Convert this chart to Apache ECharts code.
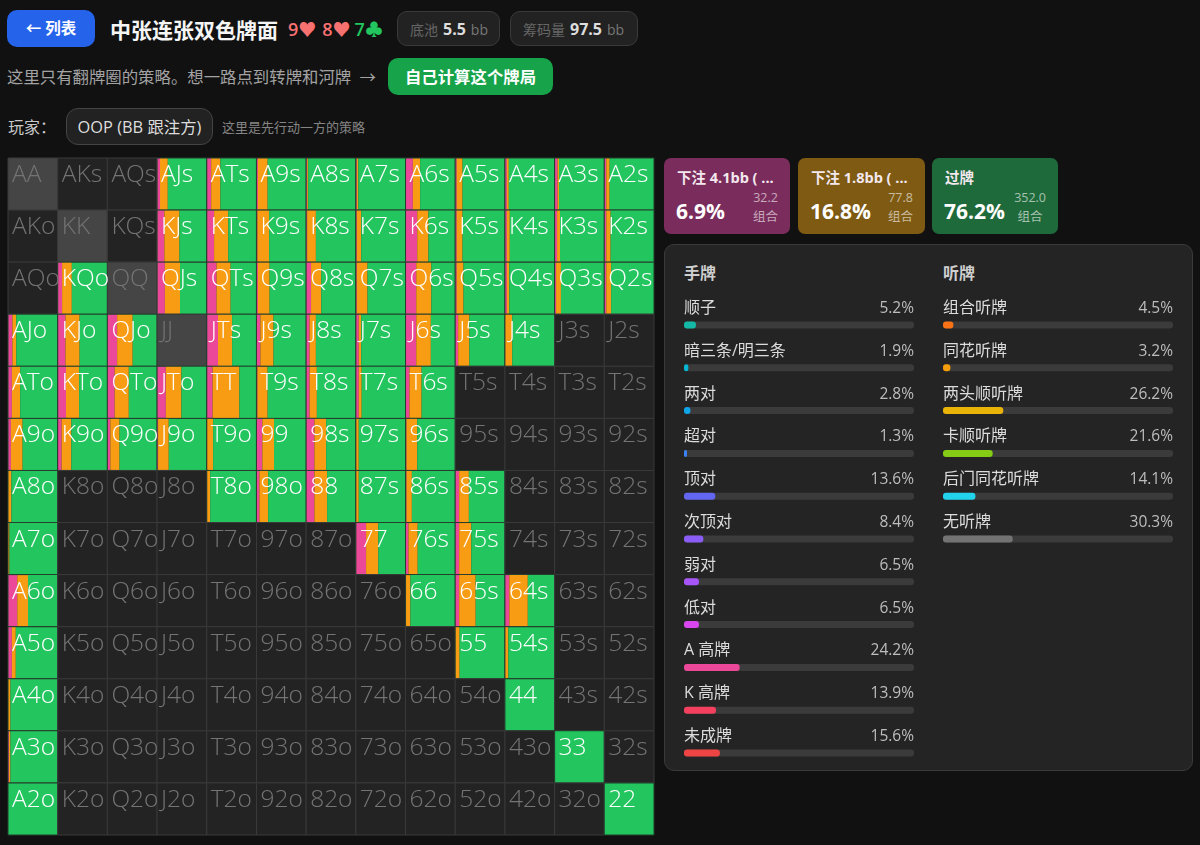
<!DOCTYPE html>
<html lang="zh">
<head>
<meta charset="utf-8">
<title>中张连张双色牌面</title>
<script src="https://cdn.jsdelivr.net/npm/echarts@6/dist/echarts.min.js"></script>
<style>
  html, body { margin: 0; padding: 0; background: #111111; }
  body { width: 1200px; height: 845px; overflow: hidden; position: relative;
         font-family: "Open Sans", "Noto Sans CJK SC", sans-serif; }
  #chart { position: absolute; left: 0; top: 0; width: 1200px; height: 845px; }
  .box { position: absolute; box-sizing: border-box; white-space: nowrap; }
  .btn { border-radius: 10px; color: #fff; font-weight: 700; text-align: center; }
  .pill { background: #222222; border: 1px solid #3a3a3a; border-radius: 10px; font-size: 14px; color: #666; }
  .pill b { color: #dddddd; font-size: 16px; margin: 0 5px; }
  .card { border-radius: 7px; color: #fff; }
  .card .t { position: absolute; left: 13px; top: 8px; font-size: 14.5px; font-weight: 700; color: #f3e8ee; }
  .card .p { position: absolute; left: 12px; top: 39px; font-size: 21px; font-weight: 700; }
  .card .c { position: absolute; right: 12px; top: 30px; font-size: 12.5px; line-height: 19px; text-align: center; color: rgba(255,255,255,.6); }
  .panel { background: #242424; border: 1px solid #3a3a3a; border-radius: 10px; }
  .head { font-size: 16px; line-height: 20px; font-weight: 700; color: #cfcfcf; }
</style>
</head>
<body>
<div class="box btn" style="left:7px;top:10px;width:88px;height:37px;line-height:37px;background:#2563eb;font-size:15.5px">← 列表</div>
<div class="box" style="left:110px;top:15px;font-size:21px;line-height:30px;font-weight:700;color:#f5f5f5">中张连张双色牌面</div>
<div class="box" style="left:288px;top:16px;font-size:18px;line-height:27px;font-weight:600;color:#f87171">9♥<span style="margin-left:6px">8♥</span><span style="margin-left:4px;color:#22c55e">7♣</span></div>
<div class="box pill" style="left:397px;top:11px;width:103px;height:35px;line-height:35px;padding-left:12px">底池<b>5.5</b><span style="color:#777">bb</span></div>
<div class="box pill" style="left:510px;top:11px;width:128px;height:35px;line-height:35px;padding-left:12px">筹码量<b>97.5</b><span style="color:#777">bb</span></div>
<div class="box" style="left:7px;top:65px;font-size:16.4px;line-height:24px;color:#a3a3a3">这里只有翻牌圈的策略。想一路点到转牌和河牌 <span style="margin-left:4px">→</span></div>
<div class="box btn" style="left:388px;top:58px;width:165px;height:37px;line-height:37px;background:#16a34a;font-size:16.4px">自己计算这个牌局</div>
<div class="box" style="left:8px;top:116px;font-size:16px;line-height:22px;color:#c8c8c8">玩家：</div>
<div class="box pill" style="left:66px;top:108px;width:147px;height:37px;line-height:35px;text-align:center;font-size:16.4px;color:#dddddd;border-color:#444;border-radius:12px">OOP (BB 跟注方)</div>
<div class="box" style="left:222px;top:117px;font-size:13px;line-height:20px;color:#858585">这里是先行动一方的策略</div>

<div class="box card" style="left:664px;top:158px;width:126px;height:76px;background:#7a2d5c"><span class="t">下注 4.1bb ( ...</span><span class="p">6.9%</span><span class="c">32.2<br>组合</span></div>
<div class="box card" style="left:798px;top:158px;width:127px;height:76px;background:#7e5a13"><span class="t">下注 1.8bb ( ...</span><span class="p">16.8%</span><span class="c">77.8<br>组合</span></div>
<div class="box card" style="left:932px;top:158px;width:126px;height:76px;background:#1f6a3b"><span class="t">过牌</span><span class="p">76.2%</span><span class="c">352.0<br>组合</span></div>

<div class="box panel" style="left:664px;top:244px;width:529px;height:527px"></div>
<div class="box head" style="left:684px;top:263px">手牌</div>
<div class="box head" style="left:943px;top:263px">听牌</div>

<div id="chart"></div>
<script>
// 13x13 起手牌矩阵，行列同序
const ranks = ['A', 'K', 'Q', 'J', 'T', '9', '8', '7', '6', '5', '4', '3', '2'];

// 每格的下注比例（%），null = 不在范围内，其余部分是过牌
const bigBet = [
  [null, null, null, 5, 8, 2, 1, 1, 14, 2, 3, 5, 3],
  [null, null, null, 14, 14, 1, 1, 1, 23, 2, 3, 4, 3],
  [null, 8, null, 15, 19, 2, 9, 1, 21, 2, 3, 2, 3],
  [8, 15, 19, null, 22, 7, 6, 5, 21, 5, 0, null, null],
  [7, 16, 14, 17, 11, 1, 6, 5, 7, null, null, null, null],
  [5, 7, 5, 1, 0, 11, 16, 0, 1, null, null, null, null],
  [0, null, null, null, 0, 5, 16, 0, 1, 7, null, null, null],
  [0, null, null, null, null, null, null, 20, 5, 7, null, null, null],
  [18, null, null, null, null, null, null, null, 0, 7, 8, null, null],
  [7, null, null, null, null, null, null, null, null, 0, 0, null, null],
  [0, null, null, null, null, null, null, null, null, null, 0, null, null],
  [1, null, null, null, null, null, null, null, null, null, null, 0, null],
  [0, null, null, null, null, null, null, null, null, null, null, null, 0]
];
const smallBet = [
  [null, null, null, 16, 19, 20, 2, 3, 15, 12, 4, 3, 7],
  [null, null, null, 31, 29, 24, 18, 9, 23, 12, 6, 6, 9],
  [null, 20, null, 31, 29, 24, 21, 22, 31, 14, 5, 10, 10],
  [8, 29, 32, null, 29, 27, 13, 5, 30, 23, 14, null, null],
  [17, 27, 29, 32, 55, 21, 15, 6, 25, null, null, null, null],
  [24, 20, 19, 22, 12, 24, 24, 5, 22, null, null, null, null],
  [6, null, null, null, 6, 18, 26, 5, 11, 20, null, null, null],
  [2, null, null, null, null, null, null, 25, 19, 25, null, null, null],
  [22, null, null, null, null, null, null, null, 9, 34, 38, null, null],
  [8, null, null, null, null, null, null, null, null, 8, 6, null, null],
  [4, null, null, null, null, null, null, null, null, null, 0, null, null],
  [3, null, null, null, null, null, null, null, null, null, null, 0, null],
  [0, null, null, null, null, null, null, null, null, null, null, null, 0]
];

// 手牌分布
const madeNames = ['顺子', '暗三条/明三条', '两对', '超对', '顶对', '次顶对', '弱对', '低对', 'A 高牌', 'K 高牌', '未成牌'];
const madeValues = [5.2, 1.9, 2.8, 1.3, 13.6, 8.4, 6.5, 6.5, 24.2, 13.9, 15.6];
const madeColors = ['#14b8a6', '#06b6d4', '#0ea5e9', '#3b82f6', '#6366f1', '#8b5cf6', '#a855f7', '#d946ef', '#ec4899', '#f43f5e', '#ef4444'];

// 听牌分布
const drawNames = ['组合听牌', '同花听牌', '两头顺听牌', '卡顺听牌', '后门同花听牌', '无听牌'];
const drawValues = [4.5, 3.2, 26.2, 21.6, 14.1, 30.3];
const drawColors = ['#f97316', '#f59e0b', '#eab308', '#84cc16', '#22d3ee', '#737373'];

const PINK = '#ec4899', ORANGE = '#f89c13', GREEN = '#22c55e';

function handName(r, c) {
  if (r === c) return ranks[r] + ranks[c];
  return r < c ? ranks[r] + ranks[c] + 's' : ranks[c] + ranks[r] + 'o';
}

const cells = [];
ranks.forEach((_, r) => ranks.forEach((_, c) => {
  cells.push([c, r, bigBet[r][c], smallBet[r][c], handName(r, c)]);
}));

function renderCell(params, api) {
  const c = api.value(0), r = api.value(1);
  const big = bigBet[r][c], small = smallBet[r][c];
  const p = api.coord([c, r]);
  const s = api.size([1, 1]);
  const x = p[0] - s[0] / 2, y = p[1] - s[1] / 2, w = s[0], h = s[1];
  const inRange = big !== null;
  const pair = r === c;
  const children = [];
  // 底色 + 网格线
  children.push({
    type: 'rect',
    shape: { x: x, y: y, width: w, height: h },
    style: { fill: inRange ? '#1d3b2a' : (pair ? '#454545' : '#232323'), stroke: inRange ? '#27412f' : '#3a3a3a', lineWidth: 1 }
  });
  if (inRange) {
    const bw = w - 1, bh = h - 1, bx = x + 0.5, by = y + 0.5;
    const w1 = bw * big / 100, w2 = bw * small / 100;
    children.push({ type: 'rect', shape: { x: bx, y: by, width: w1, height: bh }, style: { fill: PINK } });
    children.push({ type: 'rect', shape: { x: bx + w1, y: by, width: w2, height: bh }, style: { fill: ORANGE } });
    children.push({ type: 'rect', shape: { x: bx + w1 + w2, y: by, width: bw - w1 - w2, height: bh }, style: { fill: GREEN } });
  }
  children.push({
    type: 'text',
    z2: 10,
    style: {
      text: cells[params.dataIndex][4],
      x: x + 4,
      y: y + 17,
      fill: inRange ? '#ffffff' : '#747474',
      font: '300 24.5px "Open Sans", sans-serif',
      textAlign: 'left',
      textVerticalAlign: 'middle',
      shadowColor: 'rgba(0,0,0,0.6)',
      shadowBlur: 3,
      shadowOffsetX: 1,
      shadowOffsetY: 1
    }
  });
  return { type: 'group', children: children };
}

function barSeries(names, values, colors, axisIndex) {
  const labelFont = { fontFamily: '"Open Sans", "Noto Sans CJK SC", sans-serif' };
  return [
    {
      type: 'bar',
      xAxisIndex: axisIndex,
      yAxisIndex: axisIndex,
      barWidth: 7,
      barGap: '-100%',
      silent: true,
      data: values.map(() => 100),
      itemStyle: { color: '#3b3b3b', borderRadius: 3 },
      label: {
        show: true,
        position: [230, -13],
        align: 'right',
        verticalAlign: 'middle',
        color: '#bdbdbd',
        fontSize: 15.5,
        ...labelFont,
        formatter: p => values[p.dataIndex].toFixed(1) + '%'
      }
    },
    {
      type: 'bar',
      xAxisIndex: axisIndex,
      yAxisIndex: axisIndex,
      barWidth: 7,
      barGap: '-100%',
      silent: true,
      data: values.map((v, i) => ({ value: v, itemStyle: { color: colors[i] } })),
      itemStyle: { borderRadius: 3 },
      label: {
        show: true,
        position: [0, -13],
        align: 'left',
        verticalAlign: 'middle',
        color: '#dcdcdc',
        fontSize: 16,
        ...labelFont,
        formatter: p => names[p.dataIndex]
      }
    }
  ];
}

const ROW = 42.8;
const chart = echarts.init(document.getElementById('chart'));
const option = {
  animation: false,
  backgroundColor: 'transparent',
  grid: [
    { left: 8, top: 158, width: 646, height: 677 },
    { left: 684, top: 303.6, width: 230, height: ROW * madeNames.length },
    { left: 943, top: 303.6, width: 230, height: ROW * drawNames.length }
  ],
  xAxis: [
    { gridIndex: 0, type: 'category', data: ranks, show: false },
    { gridIndex: 1, type: 'value', min: 0, max: 100, show: false },
    { gridIndex: 2, type: 'value', min: 0, max: 100, show: false }
  ],
  yAxis: [
    { gridIndex: 0, type: 'category', data: ranks, inverse: true, show: false },
    { gridIndex: 1, type: 'category', data: madeNames, inverse: true, show: false },
    { gridIndex: 2, type: 'category', data: drawNames, inverse: true, show: false }
  ],
  series: [
    {
      type: 'custom',
      xAxisIndex: 0,
      yAxisIndex: 0,
      silent: true,
      data: cells,
      renderItem: renderCell,
      clip: false
    },
    ...barSeries(madeNames, madeValues, madeColors, 1),
    ...barSeries(drawNames, drawValues, drawColors, 2)
  ]
};
chart.setOption(option);
</script>
</body>
</html>
